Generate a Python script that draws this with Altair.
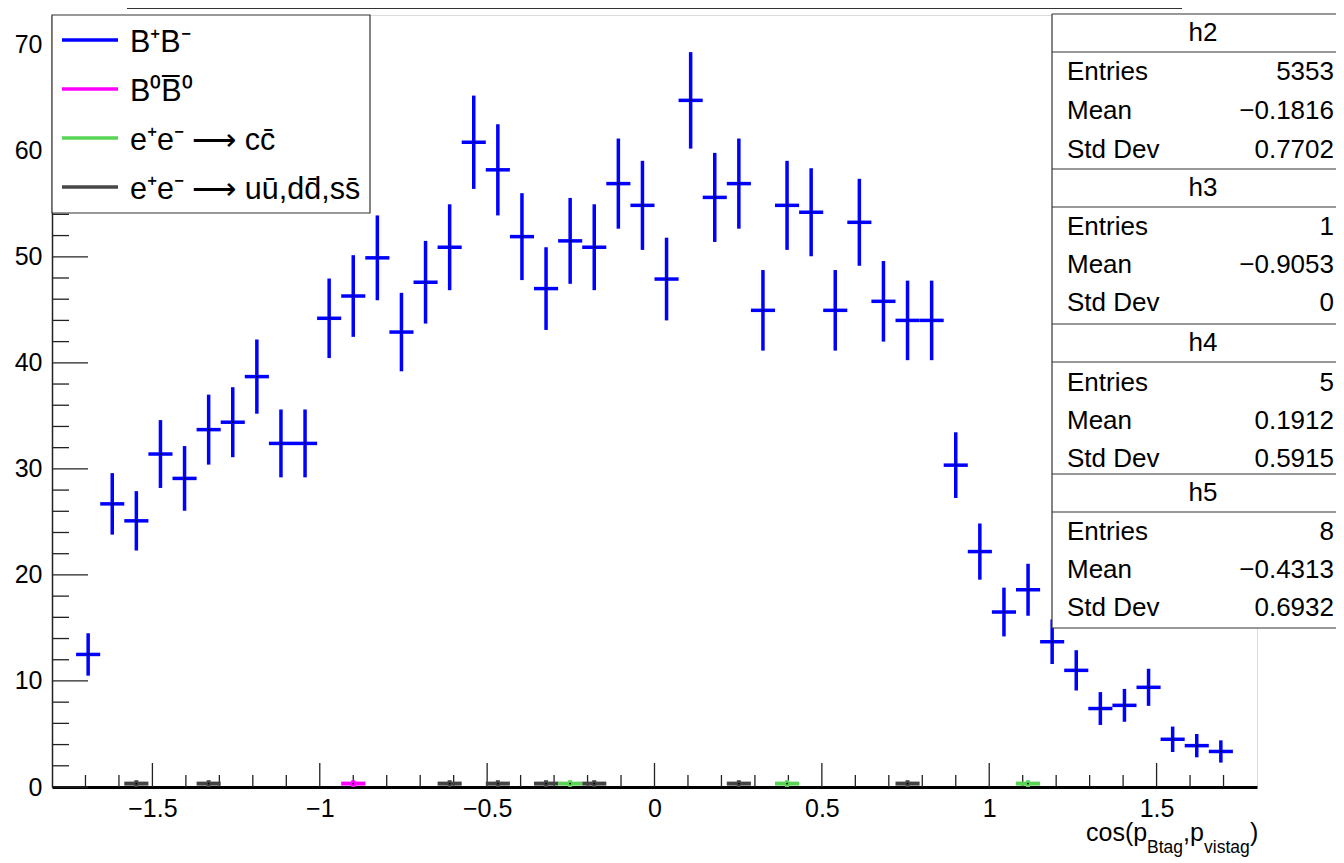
import altair as alt
import pandas as pd

FONT = "Liberation Sans"

# ---------------- data ----------------
bb_centers = [-1.692, -1.620, -1.548, -1.476, -1.404, -1.332, -1.260, -1.188,
              -1.116, -1.044, -0.972, -0.900, -0.828, -0.756, -0.684, -0.612,
              -0.540, -0.468, -0.396, -0.324, -0.252, -0.180, -0.108, -0.036,
              0.036, 0.108, 0.180, 0.252, 0.324, 0.396, 0.468, 0.540,
              0.612, 0.684, 0.756, 0.828, 0.900, 0.972, 1.044, 1.116,
              1.188, 1.260, 1.332, 1.404, 1.476, 1.548, 1.620, 1.692]
bb_values = [12.5, 26.7, 25.1, 31.4, 29.1, 33.7, 34.4, 38.7,
             32.4, 32.4, 44.2, 46.3, 49.9, 42.9, 47.6, 50.9,
             60.8, 58.2, 51.9, 47.0, 51.5, 50.9, 56.9, 54.85,
             47.9, 64.75, 55.6, 56.9, 44.95, 54.85, 54.2, 44.95,
             53.25, 45.8, 44.0, 44.0, 30.35, 22.2, 16.5, 18.6,
             13.7, 11.0, 7.4, 7.7, 9.4, 4.5, 3.9, 3.35]
bb_errors = [2.0, 2.9, 2.8, 3.2, 3.05, 3.3, 3.3, 3.5,
             3.2, 3.2, 3.75, 3.85, 4.0, 3.7, 3.9, 4.05,
             4.4, 4.3, 4.1, 3.9, 4.05, 4.05, 4.25, 4.2,
             3.9, 4.55, 4.2, 4.25, 3.8, 4.2, 4.15, 3.8,
             4.1, 3.8, 3.75, 3.75, 3.1, 2.65, 2.3, 2.45,
             2.1, 1.9, 1.55, 1.55, 1.75, 1.2, 1.1, 1.05]

b0_centers = [-0.900]
b0_values = [0.32]
b0_errors = [0.32]

cc_centers = [-0.252, 0.396, 1.116]
cc_values = [0.32, 0.32, 0.32]
cc_errors = [0.32, 0.32, 0.32]

uds_centers = [-1.548, -1.332, -0.612, -0.468, -0.324, -0.180, 0.252, 0.756]
uds_values = [0.32, 0.32, 0.32, 0.32, 0.32, 0.32, 0.32, 0.32]
uds_errors = [0.32, 0.32, 0.32, 0.32, 0.32, 0.32, 0.32, 0.32]

half_bin = 0.036

x_major = [-1.5, -1.0, -0.5, 0.0, 0.5, 1.0, 1.5]
x_minor = [-1.7, -1.6, -1.4, -1.3, -1.2, -1.1, -0.9, -0.8, -0.7, -0.6,
           -0.4, -0.3, -0.2, -0.1, 0.1, 0.2, 0.3, 0.4, 0.6, 0.7, 0.8, 0.9,
           1.1, 1.2, 1.3, 1.4, 1.6, 1.7]
y_major = [0, 10, 20, 30, 40, 50, 60, 70]
y_minor = [2, 4, 6, 8, 12, 14, 16, 18, 22, 24, 26, 28, 32, 34, 36, 38,
           42, 44, 46, 48, 52, 54, 56, 58, 62, 64, 66, 68, 72]

legend_labels = ["B\u207aB\u207b", "B\u2070B\u0305\u2070",
                 "e\u207ae\u207b \u27f6 cc\u0304",
                 "e\u207ae\u207b \u27f6 u\u016b,dd\u0304,ss\u0304"]
legend_colors = ["#0000ff", "#ff00ff", "#59d454", "#474747"]

stat_names = ["h2", "h3", "h4", "h5"]
stat_entries = ["5353", "1", "5", "8"]
stat_means = ["\u22120.1816", "\u22120.9053", "0.1912", "\u22120.4313"]
stat_stds = ["0.7702", "0", "0.5915", "0.6932"]

X_DOMAIN = [-1.8, 1.8]
Y_DOMAIN = [0, 72.8]

# ---------------- layout ----------------
W, H = 1205, 772
xs = alt.Scale(domain=X_DOMAIN, nice=False, zero=False)
ys = alt.Scale(domain=Y_DOMAIN, nice=False, zero=False)

xax = alt.Axis(values=x_major, format="~g", ticks=False, grid=False,
               domainColor="black", domainWidth=3, labelFont=FONT,
               labelFontSize=25, labelColor="black", labelPadding=9,
               title=None, labelFlush=False, labelOverlap=False)
yax = alt.Axis(values=y_major, format="d", ticks=False, grid=False,
               domainColor="#222222", domainWidth=1.5, labelFont=FONT,
               labelFontSize=25, labelColor="black", labelPadding=10,
               title=None, labelFlush=False, labelOverlap=False)


def X(f):
    return alt.X(f, type="quantitative", scale=xs, axis=xax)


def Y(f):
    return alt.Y(f, type="quantitative", scale=ys, axis=yax)


one = pd.DataFrame({"a": [0]})


def txt(s, x, y, size, align="left", baseline="alphabetic", color="black"):
    return alt.Chart(one).mark_text(
        text=s, align=align, baseline=baseline, fontSize=size, font=FONT,
        color=color).encode(x=alt.value(x), y=alt.value(y))


def rule(x1, x2, y1, y2, color="#333333", width=1.0):
    return alt.Chart(one).mark_rule(color=color, strokeWidth=width).encode(
        x=alt.value(x1), x2=alt.value(x2), y=alt.value(y1), y2=alt.value(y2))


def box(x1, x2, y1, y2, stroke="#333333"):
    return alt.Chart(one).mark_rect(fill="white", stroke=stroke,
                                    strokeWidth=1.2).encode(
        x=alt.value(x1), x2=alt.value(x2), y=alt.value(y1), y2=alt.value(y2))


def hist_layers(centers, values, errors, color, width):
    df = pd.DataFrame({"c": centers, "v": values, "e": errors})
    base = alt.Chart(df).transform_calculate(
        lo="datum.v - datum.e", hi="datum.v + datum.e",
        xl="datum.c - %f" % half_bin, xr="datum.c + %f" % half_bin)
    vert = base.mark_rule(color=color, strokeWidth=width).encode(
        x=X("c"), y=Y("lo:Q"), y2="hi:Q")
    horiz = base.mark_rule(color=color, strokeWidth=width).encode(
        x=X("xl:Q"), x2="xr:Q", y=Y("v"))
    dot = base.mark_point(filled=True, color="black", size=3, opacity=1).encode(
        x=X("c"), y=Y("v"))
    return [vert, horiz, dot]


layers = []

# ticks (pointing inward)
layers.append(alt.Chart(pd.DataFrame({"v": x_major})).mark_rule(
    color="#222222", strokeWidth=1.3).encode(
    x=X("v"), y=alt.value(H), y2=alt.value(H - 24)))
layers.append(alt.Chart(pd.DataFrame({"v": x_minor})).mark_rule(
    color="#222222", strokeWidth=1.3).encode(
    x=X("v"), y=alt.value(H), y2=alt.value(H - 12)))
layers.append(alt.Chart(pd.DataFrame({"v": y_major})).mark_rule(
    color="#222222", strokeWidth=1.3).encode(
    y=Y("v"), x=alt.value(0), x2=alt.value(36)))
layers.append(alt.Chart(pd.DataFrame({"v": y_minor})).mark_rule(
    color="#222222", strokeWidth=1.3).encode(
    y=Y("v"), x=alt.value(0), x2=alt.value(17)))

# histograms
layers += hist_layers(uds_centers, uds_values, uds_errors, "#444444", 4)
layers += hist_layers(cc_centers, cc_values, cc_errors, "#59d454", 4)
layers += hist_layers(b0_centers, b0_values, b0_errors, "#ff00ff", 4)
layers += hist_layers(bb_centers, bb_values, bb_errors, "#0000ff", 3.5)

# title box remnant at top
layers.append(rule(75, 1130, -6.5, -6.5, "#333333", 1))

# legend
layers.append(box(0, 318, 0, 198))
leg_y = [25, 74, 123, 172]
for lab, col, yy in zip(legend_labels, legend_colors, leg_y):
    layers.append(rule(10, 66, yy, yy, col, 3.5))
    layers.append(txt(lab, 78, yy + 12, 30.5))

# stats box
layers.append(alt.Chart(one).mark_rect(fill="white").encode(
    x=alt.value(1000), x2=alt.value(1300), y=alt.value(-1), y2=alt.value(613)))
for yy in [-1, 37, 154, 192, 309, 347, 459, 497, 613]:
    layers.append(rule(1000, 1300, yy, yy, "#333333", 1.2))
layers.append(rule(1000, 1000, -1, 613, "#333333", 1.2))
head_y = [17.5, 173, 328, 478]
row_y = [[57, 96, 135], [212, 250, 288], [368, 406, 444], [517, 555, 593]]
for i in range(4):
    layers.append(txt(stat_names[i], 1151, head_y[i], 26, "center", "middle"))
    vals = [stat_entries[i], stat_means[i], stat_stds[i]]
    for name, val, yy in zip(["Entries", "Mean", "Std Dev"], vals, row_y[i]):
        layers.append(txt(name, 1015, yy, 26, "left", "middle"))
        layers.append(txt(val, 1282, yy, 26, "right", "middle"))

# x axis title with subscripts
layers.append(txt("cos(p", 1034, 826, 25))
layers.append(txt("Btag", 1095, 838, 17.5))
layers.append(txt(",p", 1131, 826, 25))
layers.append(txt("vistag", 1152, 838, 17.5))
layers.append(txt(")", 1198, 826, 25))

chart = alt.layer(*layers).properties(
    width=W, height=H,
    autosize=alt.AutoSizeParams(type="none"),
    padding={"left": 44, "top": 7, "right": 79, "bottom": 74},
    background="white",
).configure_view(stroke="#222222", strokeWidth=1.5).configure(font=FONT)

chart.save("out.html", embed_options={"renderer": "svg", "actions": False})
